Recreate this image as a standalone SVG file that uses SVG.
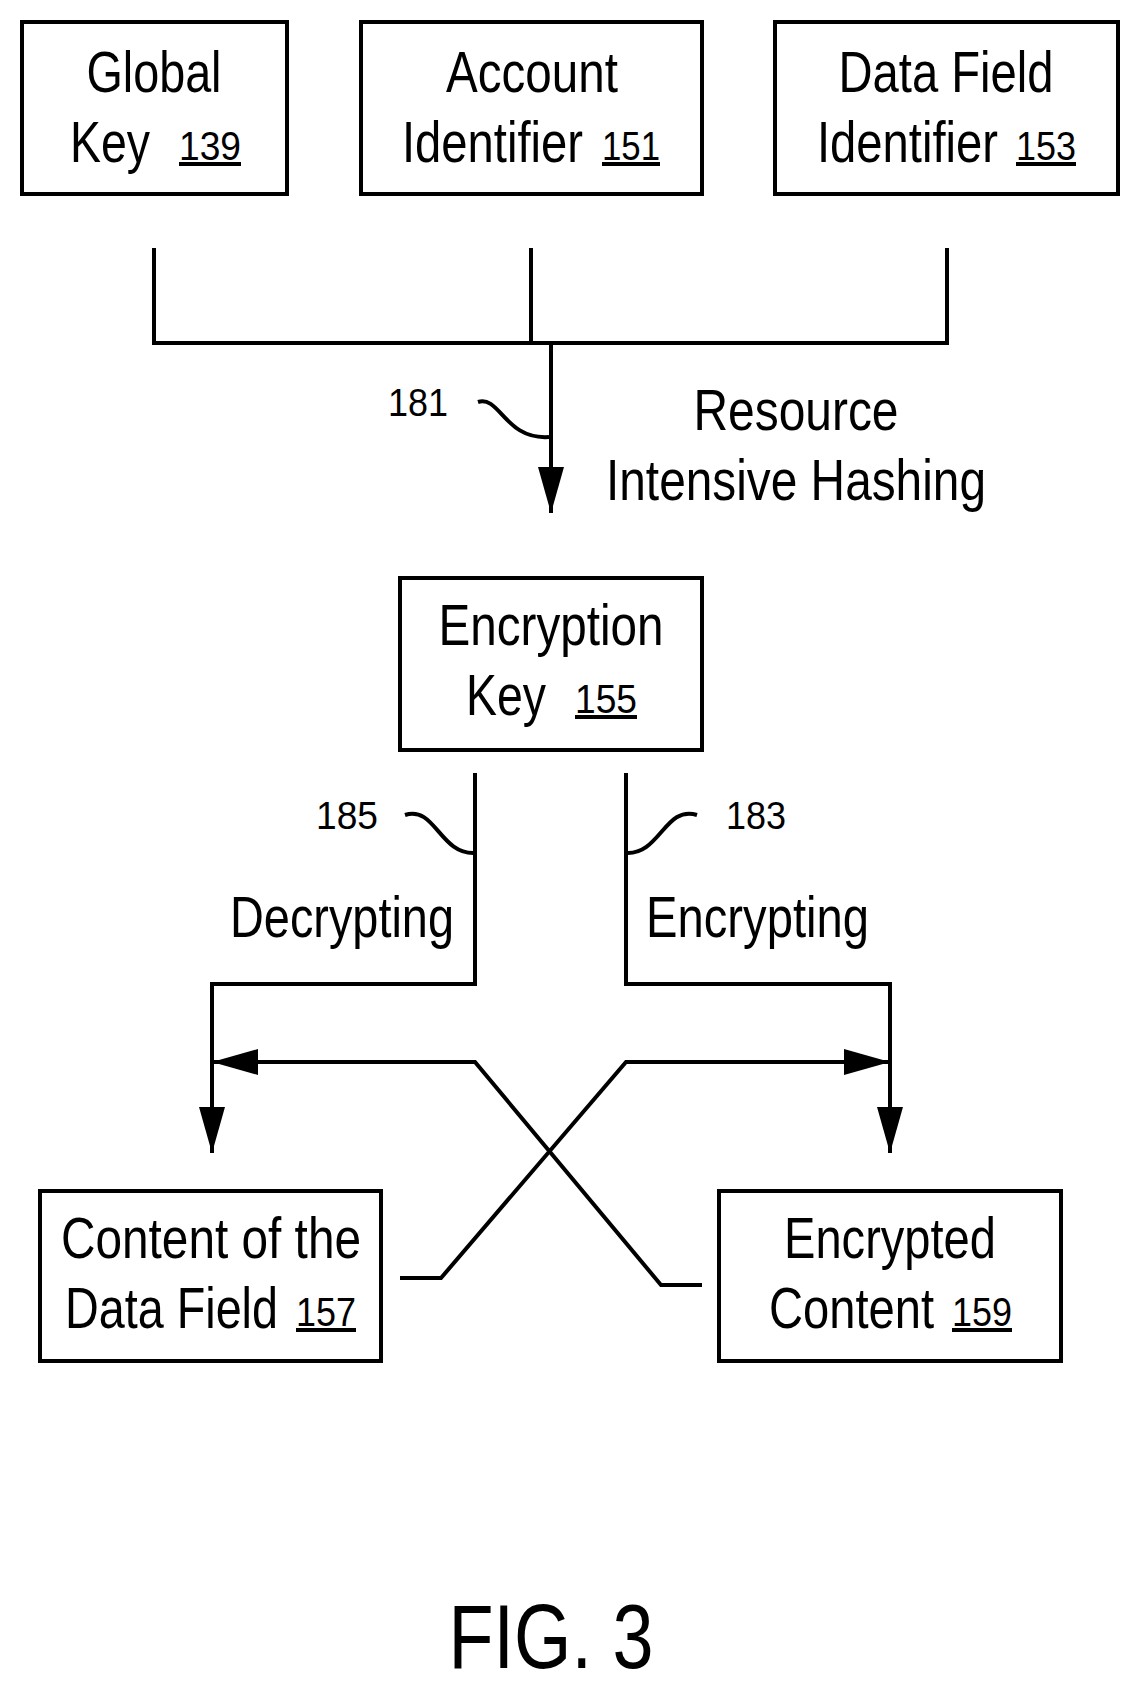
<svg xmlns="http://www.w3.org/2000/svg" width="1133" height="1684" viewBox="0 0 1133 1684">
<style>
.b{fill:#fff;stroke:#000;stroke-width:4}
.c{fill:none;stroke:#000;stroke-width:4}
.t{font-family:"Liberation Sans",Arial,sans-serif;font-size:58px;fill:#000}
.n{font-family:"Liberation Sans",Arial,sans-serif;font-size:40px;fill:#000;text-decoration:underline}
.s{font-family:"Liberation Sans",Arial,sans-serif;font-size:38px;fill:#000}
.f{font-family:"Liberation Sans",Arial,sans-serif;font-size:90px;fill:#000}
</style>
<defs>
<marker id="m" viewBox="0 0 10 10" refX="10" refY="5" markerWidth="46" markerHeight="26" orient="auto" markerUnits="userSpaceOnUse" preserveAspectRatio="none"><path d="M0,0 L10,5 L0,10z" fill="#000"/></marker>
</defs>
<g id="global"><rect class="b" x="22" y="22" width="265" height="172"/>
<text class="t" x="154" y="92" text-anchor="middle" textLength="135" lengthAdjust="spacingAndGlyphs">Global</text>
<text class="t" x="70" y="162" textLength="80" lengthAdjust="spacingAndGlyphs">Key</text>
<text class="n" x="179" y="160" textLength="62" lengthAdjust="spacingAndGlyphs">139</text></g>
<g id="account"><rect class="b" x="361" y="22" width="341" height="172"/>
<text class="t" x="532" y="92" text-anchor="middle" textLength="172" lengthAdjust="spacingAndGlyphs">Account</text>
<text class="t" x="402" y="162" textLength="181" lengthAdjust="spacingAndGlyphs">Identifier</text>
<text class="n" x="602" y="160" textLength="58" lengthAdjust="spacingAndGlyphs">151</text></g>
<g id="datafield"><rect class="b" x="775" y="22" width="343" height="172"/>
<text class="t" x="946" y="92" text-anchor="middle" textLength="215" lengthAdjust="spacingAndGlyphs">Data Field</text>
<text class="t" x="817" y="162" textLength="181" lengthAdjust="spacingAndGlyphs">Identifier</text>
<text class="n" x="1016" y="160" textLength="60" lengthAdjust="spacingAndGlyphs">153</text></g>
<g id="enckey"><rect class="b" x="400" y="578" width="302" height="172"/>
<text class="t" x="551" y="645" text-anchor="middle" textLength="225" lengthAdjust="spacingAndGlyphs">Encryption</text>
<text class="t" x="466" y="715" textLength="80" lengthAdjust="spacingAndGlyphs">Key</text>
<text class="n" x="575" y="713" textLength="62" lengthAdjust="spacingAndGlyphs">155</text></g>
<g id="content"><rect class="b" x="40" y="1191" width="341" height="170"/>
<text class="t" x="211" y="1258" text-anchor="middle" textLength="300" lengthAdjust="spacingAndGlyphs">Content of the</text>
<text class="t" x="65" y="1328" textLength="213" lengthAdjust="spacingAndGlyphs">Data Field</text>
<text class="n" x="296" y="1326" textLength="60" lengthAdjust="spacingAndGlyphs">157</text></g>
<g id="encrypted"><rect class="b" x="719" y="1191" width="342" height="170"/>
<text class="t" x="890" y="1258" text-anchor="middle" textLength="212" lengthAdjust="spacingAndGlyphs">Encrypted</text>
<text class="t" x="769" y="1328" textLength="165" lengthAdjust="spacingAndGlyphs">Content</text>
<text class="n" x="952" y="1326" textLength="60" lengthAdjust="spacingAndGlyphs">159</text></g>
<g id="connectors">
<path class="c" d="M154,248 V343 H947 V248 M531,248 V343"/>
<path class="c" d="M551,343 V513" marker-end="url(#m)"/>
<path class="c" d="M478,402 C500,395 505,440 549,437"/>
<path class="c" d="M475,773 V984 H212 V1153" marker-end="url(#m)"/>
<path class="c" d="M626,773 V984 H890 V1153" marker-end="url(#m)"/>
<path class="c" d="M405,815 C435,805 440,855 475,853"/>
<path class="c" d="M626,853 C660,855 665,805 697,815"/>
<path class="c" d="M702,1285 H661 L475,1062 H212" marker-end="url(#m)"/>
<path class="c" d="M400,1278 H441 L626,1062 H890" marker-end="url(#m)"/>
</g>
<g id="labels">
<text class="s" x="388" y="416" textLength="60" lengthAdjust="spacingAndGlyphs">181</text>
<text class="s" x="316" y="829" textLength="62" lengthAdjust="spacingAndGlyphs">185</text>
<text class="s" x="726" y="829" textLength="60" lengthAdjust="spacingAndGlyphs">183</text>
<text class="t" x="796" y="430" text-anchor="middle" textLength="205" lengthAdjust="spacingAndGlyphs">Resource</text>
<text class="t" x="796" y="500" text-anchor="middle" textLength="380" lengthAdjust="spacingAndGlyphs">Intensive Hashing</text>
<text class="t" x="230" y="937" textLength="224" lengthAdjust="spacingAndGlyphs">Decrypting</text>
<text class="t" x="646" y="937" textLength="223" lengthAdjust="spacingAndGlyphs">Encrypting</text>
<text class="f" x="551" y="1668" text-anchor="middle" textLength="205" lengthAdjust="spacingAndGlyphs">FIG. 3</text>
</g>
</svg>
